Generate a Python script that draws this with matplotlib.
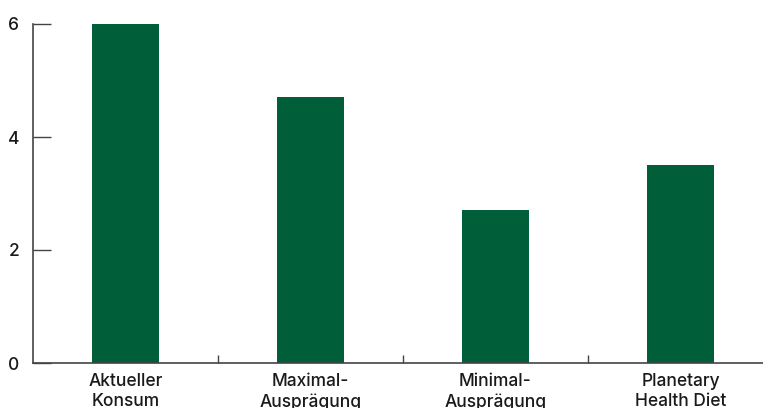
import matplotlib.pyplot as plt
import numpy as np

categories = ["Aktueller\nKonsum", "Maximal-\nAusprägung", "Minimal-\nAusprägung", "Planetary\nHealth Diet"]
values = [6.0, 4.7, 2.7, 3.5]
y_ticks = [0, 2, 4, 6]

plt.rcParams['font.family'] = ['Inter', 'DejaVu Sans']

fig = plt.figure(figsize=(7.63, 4.08), dpi=100)
# axes: left at 33px, bottom at y=363px, top at y=24px, right runs past the image edge
ax = fig.add_axes([33 / 763, (408 - 363) / 408, (773 - 33) / 763, (363 - 24) / 408])

x = np.arange(len(categories))
ax.bar(x, values, width=0.36, color="#005f38", zorder=2)

ax.set_xlim(-0.5, 3.5)
ax.set_ylim(0, 6)
ax.set_yticks(y_ticks)
ax.set_yticklabels([str(t) for t in y_ticks], fontsize=12.5, fontweight='medium', color="#1a1a1a")
ax.tick_params(axis='y', direction='in', length=13, width=1, color="#444444", pad=10)

ax.set_xticks(x)
ax.set_xticklabels(categories, fontsize=12.5, fontweight='medium', color="#1a1a1a", linespacing=1.25)
ax.tick_params(axis='x', which='major', length=0, pad=7)
ax.set_xticks(x[:-1] + 0.5, minor=True)
ax.tick_params(axis='x', which='minor', direction='in', length=6, width=1, color="#444444")

for s in ['top', 'right']:
    ax.spines[s].set_visible(False)
for s in ['left', 'bottom']:
    ax.spines[s].set_color("#444444")
    ax.spines[s].set_linewidth(1.2)

fig.savefig("out.png", dpi=100)
